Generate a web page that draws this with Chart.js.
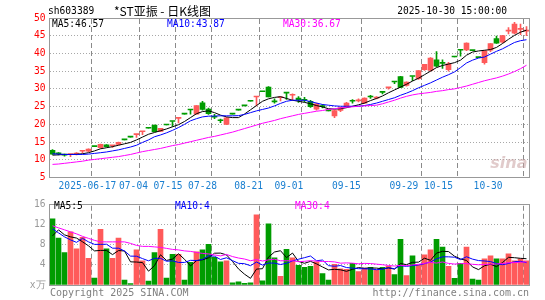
<!DOCTYPE html>
<!-- Sina daily K-line chart (sh603389) redrawn with Chart.js v4 -->
<html><head><meta charset="utf-8">
<title>sh603389 日K线图</title>
<script src="https://cdn.jsdelivr.net/npm/chart.js@4.4.0/dist/chart.umd.min.js"></script>
<style>
html,body{margin:0;padding:0;background:#fff;}
#wrap{position:relative;width:545px;height:300px;overflow:hidden;}
#priceCanvas{position:absolute;left:0;top:0;}
#volumeCanvas{position:absolute;left:0;top:195px;}
</style></head><body>
<div id="wrap"><canvas id="priceCanvas" width="545" height="195"></canvas><canvas id="volumeCanvas" width="545" height="105"></canvas></div>
<script>
// ================= texts and tick labels =================
const stockCode = 'sh603389';
const stockTitle = '*ST亚振 - 日K线图';
const stampTime = '2025-10-30 15:00:00';
const dateLabels = ['2025-06-17','07-04','07-15','07-28','08-21','09-01','09-15','09-29','10-15','10-30'];
const dateIndex  = [7,15,21,27,35,42,52,62,68,79];
const priceTicks = [5,10,15,20,25,30,35,40,45,50];
const volTicks = [0,4,8,12,16];

// ================= daily candles =================
const opens = [12.7,11.8,11.4,11.45,11.6,12.4,12.4,13.7,13.4,14.2,
13.95,14.3,15.6,16.4,17.1,17.9,18.9,19.8,18.0,19.8,
20.79,21.7,22.9,24.05,22.9,26.1,24.3,22.2,21.1,20.0,
22.9,24.0,25.2,26.5,27.7,29.2,30.5,26.6,27.5,28.85,
28.2,27.4,27.0,26.5,24.3,25.2,23.8,22.4,23.9,25.0,
26.6,26.6,26.0,27.8,27.4,29.0,30.3,31.95,33.5,31.0,
33.5,32.9,35.4,35.2,38.2,37.5,35.4,39.0,40.9,41.0,
40.8,38.8,37.4,40.9,44.2,43.2,46.3,45.7,46.8,46.3];
const highs = [12.9,12.0,11.6,11.55,12.0,12.5,13.1,13.7,14.4,14.3,
14.0,15.0,15.6,16.4,17.2,18.0,18.9,19.8,18.9,19.8,
20.79,21.83,22.9,24.05,25.27,26.5,24.6,22.8,21.5,22.0,
22.9,24.0,25.2,26.5,27.8,29.2,30.66,27.2,27.7,28.9,
28.6,27.8,27.6,26.8,26.0,25.6,23.8,24.0,24.8,26.2,
27.0,27.2,27.5,28.2,27.8,29.0,30.45,31.95,33.55,32.0,
33.5,35.2,36.96,38.8,40.5,38.2,37.5,39.0,40.9,43.0,
40.8,38.8,40.74,42.8,44.9,45.1,47.3,48.8,48.3,47.6];
const lows = [11.5,11.4,11.0,10.9,11.4,11.9,12.3,13.7,13.3,13.6,
13.5,14.2,15.6,16.4,16.3,17.1,18.9,17.95,17.9,19.8,
19.4,20.4,22.9,22.9,22.86,24.0,22.8,21.6,20.5,19.9,
22.9,24.0,25.2,26.5,25.2,29.2,27.7,26.0,26.6,27.0,
26.8,26.2,26.3,24.8,24.0,24.6,23.8,21.9,23.6,24.9,
26.0,26.3,25.9,27.3,27.2,28.6,29.9,31.5,30.35,30.8,
32.3,32.7,35.2,35.0,36.2,35.8,35.0,39.0,39.2,40.8,
40.8,38.8,37.0,40.5,42.8,43.0,45.5,45.5,45.3,45.0];
const closes = [11.6,11.7,11.3,11.5,11.9,12.45,13.05,13.7,14.35,13.7,
14.0,14.9,15.6,16.4,17.2,18.0,18.9,17.96,18.86,19.8,
20.79,21.83,22.9,24.05,25.27,24.2,23.0,22.0,21.0,21.8,
22.9,24.0,25.2,26.5,27.8,29.2,27.74,26.35,27.67,28.8,
28.4,26.9,26.8,25.0,25.8,25.0,23.8,23.9,24.7,26.0,
26.5,26.8,27.4,27.7,27.6,29.0,30.43,31.95,30.4,31.9,
33.5,35.17,36.9,38.7,36.4,37.2,37.1,39.0,40.9,42.95,
40.8,38.8,40.74,42.78,42.9,45.05,46.5,48.3,47.0,46.6];
const ma5 = [11.3,11.4,11.5,11.5,11.55,11.7,12.0,12.5,13.1,13.4,
13.7,14.1,14.5,14.9,15.6,16.4,17.2,17.7,18.2,18.7,
19.3,19.9,20.8,21.9,23.0,23.6,23.8,23.3,22.6,22.1,
21.9,21.9,22.9,24.1,25.3,26.5,27.2,27.6,27.8,27.3,
26.8,26.5,26.2,25.8,25.3,24.9,24.4,24.3,24.4,24.7,
25.1,25.5,26.0,26.7,27.3,28.0,28.9,29.7,30.5,31.3,
32.2,33.0,34.0,35.0,36.0,36.6,37.0,37.4,38.1,39.5,
40.4,40.7,40.9,41.1,41.7,42.8,44.0,45.1,46.0,46.57];
const ma10 = [11.7,11.6,11.5,11.5,11.5,11.5,11.6,11.8,12.0,12.2,
12.5,12.8,13.2,13.6,14.1,14.9,15.6,16.5,17.0,17.6,
18.3,19.1,20.0,21.0,21.6,22.1,22.3,22.35,22.4,22.4,
22.4,22.45,22.8,23.3,23.8,24.2,24.6,25.2,25.9,26.5,
26.8,26.8,26.8,26.4,26.0,25.6,25.4,25.2,25.1,25.1,
25.1,25.1,25.3,25.6,26.0,26.5,27.0,27.5,28.2,28.8,
29.5,30.3,31.0,31.7,32.5,33.3,34.0,34.8,36.0,37.3,
38.1,38.7,39.0,39.8,40.6,41.3,42.2,43.1,43.6,43.87];
const ma30 = [8.7,8.8,9.0,9.2,9.4,9.6,9.9,10.1,10.3,10.5,
10.7,10.9,11.2,11.5,11.9,12.3,12.6,12.9,13.2,13.6,
14.0,14.3,14.7,15.1,15.5,15.9,16.3,16.6,17.0,17.4,
17.8,18.3,18.8,19.3,19.8,20.3,20.7,21.1,21.6,22.0,
22.4,22.8,23.1,23.4,23.7,23.9,24.2,24.4,24.6,24.8,
24.95,25.1,25.2,25.3,25.4,25.8,26.3,26.8,27.4,27.9,
28.3,28.6,28.8,29.0,29.3,29.5,29.8,30.0,30.4,30.8,
31.3,31.8,32.3,32.7,33.1,33.6,34.2,34.9,35.7,36.67];

// ================= volume (x万) =================
const volumes = [13.2,9.35,6.45,10.6,7.2,9.5,5.3,1.4,11.1,7.2,
5.3,9.35,0.97,0.26,7.0,4.8,0.77,6.45,11.1,1.4,
6.1,6.1,0.97,4.5,6.6,7.0,8.1,5.5,4.6,4.8,
0.45,0.65,0.32,0.45,14.0,0.84,12.2,5.4,1.74,7.1,
5.4,3.9,3.5,3.7,4.6,2.3,0.97,4.1,3.2,3.1,
4.3,2.7,3.35,3.5,3.0,3.5,3.7,2.1,9.1,1.9,
5.8,3.9,6.0,7.0,9.1,7.55,3.7,1.35,4.3,7.55,
1.16,0.97,5.2,5.8,5.2,5.2,6.2,4.8,5.2,4.8];
const vma5 = [9.8,11.0,10.0,9.6,9.36,8.62,7.81,6.8,6.9,6.9,
6.06,6.87,6.78,4.62,4.58,4.48,2.76,3.86,6.02,4.9,
5.16,6.23,5.13,3.81,4.85,5.03,5.43,6.34,6.36,6.0,
4.69,3.2,2.16,1.33,3.17,3.25,5.56,6.58,6.84,5.46,
6.37,4.71,4.33,4.72,4.22,3.6,3.01,3.13,3.03,2.73,
3.13,3.48,3.33,3.39,3.37,3.21,3.41,3.16,4.28,4.06,
4.52,4.56,5.34,4.92,6.36,6.71,6.67,5.74,5.2,4.89,
3.61,3.07,3.84,4.14,3.67,4.47,5.52,5.44,5.32,5.24];
const vma10 = [11.2,10.4,9.6,9.0,8.5,9.3,8.6,8.1,8.1,8.13,
7.34,7.34,6.79,5.76,5.74,5.27,4.82,5.32,5.32,4.74,
4.82,4.5,4.5,4.92,4.88,5.1,5.83,5.74,5.09,5.43,
4.86,4.32,4.25,3.85,4.59,3.97,4.38,4.37,4.09,4.32,
4.81,5.14,5.45,5.78,4.84,4.98,3.86,3.73,3.88,3.48,
3.37,3.25,3.23,3.21,3.05,3.17,3.45,3.25,3.84,3.72,
3.87,3.99,4.25,4.6,5.21,5.62,5.62,5.54,5.06,5.63,
5.16,4.87,4.79,4.67,4.28,4.04,4.29,4.64,4.73,4.45];
const vma30 = [11.8,11.4,11.0,10.6,10.2,9.7,9.3,8.9,8.6,8.6,
8.6,8.6,8.6,8.3,7.9,7.7,7.7,7.6,7.5,7.3,
7.1,7.0,6.8,6.7,6.5,6.3,6.2,6.0,5.8,6.1,
5.67,5.38,5.18,4.84,5.07,4.78,5.01,5.14,4.83,4.83,
4.83,4.65,4.73,4.85,4.77,4.68,4.69,4.61,4.35,4.41,
4.35,4.23,4.31,4.28,4.16,4.04,3.9,3.78,3.93,3.84,
4.01,4.12,4.31,4.53,4.37,4.59,4.31,4.17,4.26,4.27,
4.13,4.03,4.09,4.16,4.18,4.28,4.45,4.47,4.54,4.6];

// ================= styling =================
const RED = '#ff5a5a', GREEN = '#009c00';
const MONO = "'DejaVu Sans Mono', 'Liberation Mono', monospace";
const DASH_COLOR = '#8a8a8a';
const slotLabels = closes.map((_, i) => i);
const candleColors = closes.map((c, i) => c > opens[i] ? RED : GREEN);
const lastOf = arr => arr[arr.length - 1];

function putText(ctx, s, x, y, color, align, size, fam) {
  ctx.save();
  ctx.font = (size || 9.6) + 'px ' + (fam || MONO);
  ctx.fillStyle = color;
  ctx.textAlign = align || 'left';
  ctx.textBaseline = 'middle';
  ctx.fillText(s, x, y);
  ctx.restore();
}
// dashed vertical date lines at the left edge of each dated candle slot, located via the x scale
function dateLines(chart) {
  const ctx = chart.ctx, area = chart.chartArea, xs = chart.scales.x;
  const half = (xs.getPixelForValue(1) - xs.getPixelForValue(0)) / 2;
  ctx.save();
  ctx.strokeStyle = DASH_COLOR;
  ctx.lineWidth = 1;
  ctx.setLineDash([5, 3]);
  dateIndex.forEach(k => {
    const px = Math.floor(xs.getPixelForValue(k) - half) + 0.5;
    ctx.beginPath();
    ctx.moveTo(px, area.top + 1);
    ctx.lineTo(px, area.bottom);
    ctx.stroke();
  });
  ctx.restore();
}
function frame(chart) {
  const ctx = chart.ctx, area = chart.chartArea;
  ctx.save();
  ctx.setLineDash([]);
  ctx.strokeStyle = '#999';
  ctx.lineWidth = 1;
  const l = Math.floor(area.left) + 0.5, r = Math.floor(area.right) + 0.5;
  const t = Math.floor(area.top) + 0.5, b = Math.floor(area.bottom) + 0.5;
  ctx.strokeRect(l, t, r - l, b - t);
  ctx.restore();
}
function slotAxis() {
  return {
    type: 'category', offset: true,
    ticks: { display: false, autoSkip: false },
    grid: { display: false, drawTicks: false },
    border: { display: false },
    afterFit: s => { s.height = 0; }
  };
}
function averageLine(data, color) {
  return { type: 'line', data, borderColor: color, borderWidth: 1, pointRadius: 0,
    tension: 0, order: 0 };
}
Chart.defaults.font.family = MONO;

// ================= price panel =================
const priceDecor = {
  id: 'priceDecor',
  beforeDatasetsDraw(chart) { dateLines(chart); },
  afterDatasetsDraw(chart) { frame(chart); },
  afterDraw(chart) {
    const ctx = chart.ctx, area = chart.chartArea, xs = chart.scales.x;
    putText(ctx, stockCode, 48, 11, '#000', 'left', 9.6);
    putText(ctx, stockTitle, 114, 11, '#000', 'left', 12, "'Noto Sans CJK SC', sans-serif");
    putText(ctx, stampTime, 507, 11, '#000', 'right', 9.6);
    putText(ctx, 'MA5:' + lastOf(ma5).toFixed(2), 52, 24, '#000', 'left');
    putText(ctx, 'MA10:' + lastOf(ma10).toFixed(2), 167, 24, '#0000ff', 'left');
    putText(ctx, 'MA30:' + lastOf(ma30).toFixed(2), 283, 24, '#ff00ff', 'left');
    const half = (xs.getPixelForValue(1) - xs.getPixelForValue(0)) / 2;
    ctx.save();
    ctx.font = '9.6px ' + MONO;
    dateLabels.forEach((d, j) => {
      const lineX = xs.getPixelForValue(dateIndex[j]) - half;
      let cx = area.left + (lineX - area.left) * 0.959 - 2.3;
      const w = ctx.measureText(d).width;
      if (cx + w / 2 > area.right - 27) cx = area.right - 27 - w / 2;
      putText(ctx, d, cx, 186, '#1a7fd0', 'center');
    });
    ctx.restore();
    ctx.save();
    ctx.font = "italic bold 16px 'DejaVu Sans', sans-serif";
    ctx.fillStyle = 'rgba(200,160,160,0.55)';
    ctx.textAlign = 'right';
    ctx.textBaseline = 'middle';
    ctx.fillText('sina', area.right - 2, area.bottom - 14);
    ctx.restore();
  }
};

new Chart(document.getElementById('priceCanvas'), {
  type: 'bar',
  data: {
    labels: slotLabels,
    datasets: [
      averageLine(ma30, '#ff00ff'), averageLine(ma10, '#0000ff'), averageLine(ma5, '#000000'),
      { type: 'bar', data: opens.map((o, i) => [o, closes[i]]), backgroundColor: candleColors,
        barThickness: 5, minBarLength: 1, grouped: false, order: 1, borderWidth: 0 },
      { type: 'bar', data: lows.map((l, i) => [l, highs[i]]), backgroundColor: candleColors,
        barThickness: 1, grouped: false, order: 2, borderWidth: 0 }
    ]
  },
  options: {
    responsive: false, animation: false, events: [],
    layout: { padding: { left: 0, right: 15.5, top: 18, bottom: 17.5 } },
    plugins: { legend: { display: false }, tooltip: { enabled: false }, title: { display: false } },
    scales: {
      x: slotAxis(),
      y: {
        min: 5, max: 50,
        afterBuildTicks: s => { s.ticks = priceTicks.map(v => ({ value: v })); },
        afterFit: s => { s.width = 49.5; },
        ticks: { color: '#ff0000', padding: 4, font: { size: 9.6, family: MONO } },
        grid: { drawTicks: false, color: c => (c.tick && (c.tick.value === 5 || c.tick.value === 50)) ? 'rgba(0,0,0,0)' : '#a8a8a8' },
        border: { display: false, dash: [1, 2] }
      }
    }
  },
  plugins: [priceDecor]
});

// ================= volume panel =================
const volumeDecor = {
  id: 'volumeDecor',
  beforeDatasetsDraw(chart) { dateLines(chart); },
  afterDatasetsDraw(chart) { frame(chart); },
  afterDraw(chart) {
    const ctx = chart.ctx;
    putText(ctx, 'MA5:' + Math.floor(lastOf(vma5)), 54, 11.5, '#000', 'left');
    putText(ctx, 'MA10:' + Math.floor(lastOf(vma10)), 175, 11.5, '#0000ff', 'left');
    putText(ctx, 'MA30:' + Math.floor(lastOf(vma30)), 295, 11.5, '#ff00ff', 'left');
    putText(ctx, 'Copyright 2025 SINA.COM', 50, 98, '#808080', 'left', 10);
    putText(ctx, 'http://finance.sina.com.cn', 529, 98, '#808080', 'right', 10);
  }
};

new Chart(document.getElementById('volumeCanvas'), {
  type: 'bar',
  data: {
    labels: slotLabels,
    datasets: [
      averageLine(vma30, '#ff00ff'), averageLine(vma10, '#0000ff'), averageLine(vma5, '#000000'),
      { type: 'bar', data: volumes, backgroundColor: candleColors, barThickness: 5,
        grouped: false, order: 1, borderWidth: 0 }
    ]
  },
  options: {
    responsive: false, animation: false, events: [],
    layout: { padding: { left: 0, right: 15.5, top: 6, bottom: 15 } },
    plugins: { legend: { display: false }, tooltip: { enabled: false } },
    scales: {
      x: slotAxis(),
      y: {
        min: 0, max: 16,
        afterBuildTicks: s => { s.ticks = volTicks.map(v => ({ value: v })); },
        afterFit: s => { s.width = 49.5; },
        ticks: { color: '#999999', padding: 4, font: { size: 9.6, family: MONO },
          callback: v => v === 0 ? 'x万' : String(v) },
        grid: { drawTicks: false, color: c => (c.tick && (c.tick.value === 0 || c.tick.value === 16)) ? 'rgba(0,0,0,0)' : '#a8a8a8' },
        border: { display: false, dash: [1, 2] }
      }
    }
  },
  plugins: [volumeDecor]
});
</script>
</body></html>
